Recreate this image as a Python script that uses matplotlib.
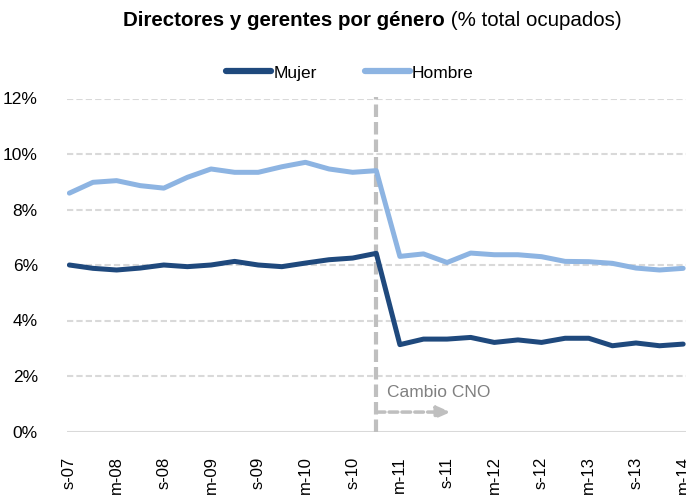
import matplotlib
matplotlib.use("Agg")
import matplotlib.pyplot as plt

plt.rcParams['font.family'] = ['Liberation Sans', 'DejaVu Sans']

# datos trimestrales, 3T 2007 a 1T 2014
mujer = [6.00, 5.88, 5.82, 5.89, 6.00, 5.94, 6.00, 6.13, 6.00, 5.94, 6.07, 6.19, 6.25, 6.42,
         3.13, 3.33, 3.33, 3.39, 3.21, 3.30, 3.21, 3.36, 3.36, 3.09, 3.19, 3.09, 3.15]
hombre = [8.59, 8.98, 9.04, 8.86, 8.77, 9.16, 9.46, 9.34, 9.34, 9.54, 9.70, 9.46, 9.34, 9.40,
          6.31, 6.40, 6.09, 6.43, 6.37, 6.37, 6.30, 6.13, 6.12, 6.06, 5.89, 5.82, 5.88]
etiquetas = ['s-07', 'm-08', 's-08', 'm-09', 's-09', 'm-10', 's-10',
             'm-11', 's-11', 'm-12', 's-12', 'm-13', 's-13', 'm-14']
yticks = [0, 2, 4, 6, 8, 10, 12]
cambio = 13  # trimestre del cambio de CNO

x = list(range(len(mujer)))

fig = plt.figure(figsize=(6.86, 5.01), dpi=100)
ax = fig.add_axes([67 / 686, 1 - 431.5 / 501, 1 - 67 / 686, (431.5 - 98.5) / 501])

# rejilla
for v in yticks[1:]:
    ax.axhline(v, color='#d9d9d9', lw=1.5, ls=(0, (3, 1.5)), zorder=1)
ax.axhline(0, color='#d9d9d9', lw=1.5, zorder=1)

ax.plot(x, mujer, color='#1f497d', lw=3.6, label='Mujer', zorder=3, solid_capstyle='round')
ax.plot(x, hombre, color='#8db4e2', lw=3.6, label='Hombre', zorder=3, solid_capstyle='round')

# línea del cambio CNO
ax.plot([cambio, cambio], [0, 12.05], color='#bfbfbf', lw=3, ls=(0, (3, 1.2)), zorder=2,
        clip_on=False)
ax.annotate('', xy=(cambio + 3.15, 0.7), xytext=(cambio, 0.7),
            arrowprops=dict(arrowstyle='-|>,head_length=0.8,head_width=0.35', color='#bfbfbf',
                            lw=2.5, ls=(0, (2.5, 1.2)), shrinkA=0, shrinkB=0), zorder=4)
ax.text(cambio + 0.45, 1.4, 'Cambio CNO', color='#808080', fontsize=12.5, va='center', ha='left')

ax.set_xlim(-0.1, 26.12)
ax.set_ylim(0, 12)
ax.set_xticks(x[::2])
ax.set_xticklabels(etiquetas, rotation=90, fontsize=12, va='top')
ax.set_yticks(yticks)
ax.set_yticklabels([f'{v}%' for v in yticks], fontsize=12.5)
ax.tick_params(length=0)
ax.tick_params(axis='x', pad=18)
ax.tick_params(axis='y', pad=21)
for s in ax.spines.values():
    s.set_visible(False)

leg = fig.legend(loc='center', bbox_to_anchor=(350 / 686, 1 - 73 / 501), ncol=2, frameon=False,
                 fontsize=12.5, handlelength=2.6, handletextpad=0.1, columnspacing=2.8)
for l in leg.get_lines():
    l.set_linewidth(4.5)
    l.set_solid_capstyle('round')

# título: parte en negrita y parte normal
r = fig.canvas.get_renderer()
t1 = fig.text(0, 1 - 20 / 501, 'Directores y gerentes por género', fontsize=14.8,
              fontweight='bold', va='center', ha='left')
t2 = fig.text(0, 1 - 20 / 501, ' (% total ocupados)', fontsize=14.8, va='center', ha='left')
w1 = t1.get_window_extent(r).width
w2 = t2.get_window_extent(r).width
x0 = 372 - (w1 + w2) / 2
t1.set_x(x0 / 686)
t2.set_x((x0 + w1) / 686)

fig.savefig('out.png', dpi=100)
